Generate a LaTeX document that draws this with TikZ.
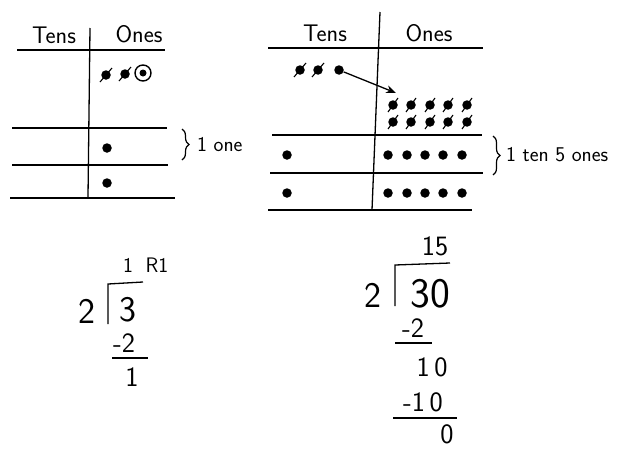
\documentclass[tikz,border=0pt]{standalone}
\usetikzlibrary{decorations.pathreplacing,arrows.meta}
\begin{document}
\begin{tikzpicture}[x=1pt,y=-1pt,
  rule/.style={line width=1.3pt},
  dotn/.style={circle,fill,inner sep=0pt,minimum size=9.5pt},
  slash/.style={line width=1.1pt},
  lbl/.style={font=\sffamily\fontsize{24}{26}\selectfont,inner sep=0pt},
  note/.style={font=\sffamily\fontsize{21}{23}\selectfont,inner sep=0pt,anchor=west},
  num/.style={font=\sffamily\fontsize{36}{38}\selectfont,inner sep=0pt},
  snum/.style={font=\sffamily\fontsize{28}{30}\selectfont,inner sep=0pt},
  qnum/.style={font=\sffamily\fontsize{21}{23}\selectfont,inner sep=0pt},
  bracestyle/.style={decorate,decoration={brace,amplitude=7pt},line width=1.2pt}
]
\useasboundingbox (0,0) rectangle (620,450);

% ---------- left chart ----------
\node[lbl] (lt) at (54,35) {Tens};
\node[lbl] (lo) at (139,34) {Ones};
\draw[rule] (17,50) -- (165,50);
\draw[rule] (90,28) -- (88,197);
\draw[rule] (12,128) -- (167,128);
\draw[rule] (12,165) -- (168,165);
\draw[rule] (10,198) -- (175,198);
\foreach \x/\y [count=\i] in {106/75,125/74}{
  \node[dotn] (lx\i) at (\x,\y) {};
  \draw[slash] (\x-6,\y+7) -- (\x+6,\y-7);
}
\node[dotn,minimum size=7pt] (lc) at (143,73) {};
\draw[line width=1.4pt] (lc.center) circle (8);
\node[dotn] (lr2) at (107,148) {};
\node[dotn] (lr3) at (107,183) {};
\draw[bracestyle] (182,129) -- (182,160);
\node[note] (lone) at (197,145) {1 one};

% ---------- right chart ----------
\node[lbl] (rt) at (325,33) {Tens};
\node[lbl] (ro) at (429,33) {Ones};
\draw[rule] (268,48) -- (483,48);
\draw[rule] (380,12) -- (372,210);
\draw[rule] (272,135) -- (482,135);
\draw[rule] (270,173) -- (483,173);
\draw[rule] (268,210) -- (472,210);
\foreach \x [count=\i] in {300,318}{
  \node[dotn] (tx\i) at (\x,70) {};
  \draw[slash] (\x-6,77) -- (\x+6,63);
}
\node[dotn] (td) at (339,70) {};
\coordinate (arrend) at (396,93);
\draw[line width=1.3pt,-{Stealth[length=10pt,width=8pt]}] (td) -- (arrend);
\foreach \x [count=\i] in {393,411,430,448,467}{
  \foreach \y [count=\j] in {105,122}{
    \node[dotn] (ox\i\j) at (\x,\y) {};
    \draw[slash] (\x-5,\y+7) -- (\x+5,\y-7);
  }
}
\node[dotn] (rt2) at (287,155) {};
\node[dotn] (rt3) at (287,193) {};
\foreach \x [count=\i] in {388,407,425,443,462}{
  \node[dotn] (ro2\i) at (\x,155) {};
  \node[dotn] (ro3\i) at (\x,193) {};
}
\draw[bracestyle] (493,136) -- (493,175);
\node[note] (rten) at (506,155) {1 ten 5 ones};

% ---------- left division ----------
\node[qnum] (lq) at (128,265) {1};
\node[qnum] (lrem) at (157,265) {R1};
\node[num] (ldv) at (87,311) {2};
\draw[rule] (108,324) -- (108,284) -- (143,282);
\node[num] (ldd) at (128,310) {3};
\node[snum] (lsub) at (124,343) {-2};
\draw[rule] (112,358) -- (148,358);
\node[snum] (lres) at (132,377) {1};

% ---------- right division ----------
\node[snum] (rq) at (435,246) {15};
\draw[rule] (395,306) -- (395,265) -- (450,263);
\node[num] (rdv) at (373,295) {2};
\node[num,font=\sffamily\fontsize{42}{44}\selectfont] (rdd) at (430,294) {30};
\node[snum] (rsub1) at (413,328) {-2};
\draw[rule] (395,343) -- (432,343);
\node[snum] (rr1) at (432,367) {1\,0};
\node[snum] (rsub2) at (423,402) {-1\,0};
\draw[rule] (393,418) -- (457,418);
\node[snum] (rr2) at (447,434) {0};
\end{tikzpicture}
\end{document}
